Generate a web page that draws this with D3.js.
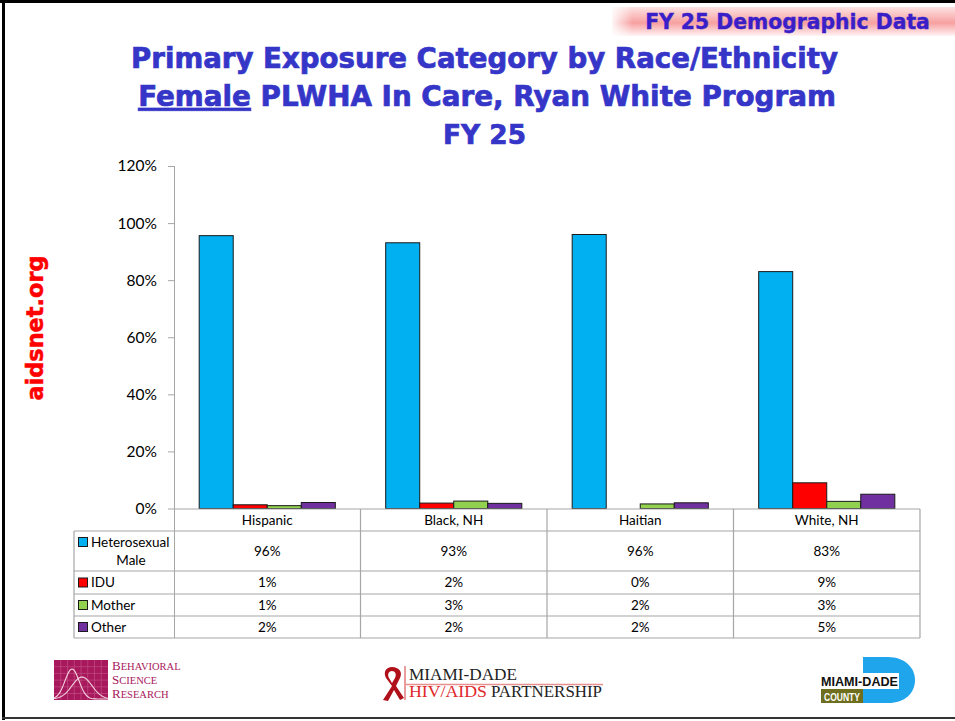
<!DOCTYPE html>
<html>
<head>
<meta charset="utf-8">
<script src="https://cdn.jsdelivr.net/npm/d3@7"></script>
<style>
  body { margin: 0; background: #fff; }
  svg { display: block; }
</style>
</head>
<body>
<div id="chart"></div>
<script>
// chart values
const categories = ['Hispanic', 'Black, NH', 'Haitian', 'White, NH'];
const seriesNames = ['Heterosexual Male', 'IDU', 'Mother', 'Other'];
const heteroMale = [95.6, 93.1, 96.0, 83.0];
const idu = [1.3, 1.9, 0, 9.0];
const mother = [1.0, 2.6, 1.6, 2.5];
const other = [2.1, 1.8, 2.0, 5.0];
const yTicks = [0, 20, 40, 60, 80, 100, 120];

const seriesColors = ['#00B0F0', '#FF0000', '#92D050', '#7030A0'];
const seriesValues = [heteroMale, idu, mother, other];

const width = 955;
const height = 721;
const titleColor = '#3535C8';
const gridGray = '#A6A6A6';
const tableFont = 'Lato, "Open Sans", sans-serif';
const heavyFont = '"DejaVu Sans", Verdana, sans-serif';

const svg = d3
  .select('#chart')
  .append('svg')
  .attr('width', width)
  .attr('height', height);

const defs = svg.append('defs');

// scale a text's font so that it spans the wanted width
function fitWidth(sel, target) {
  const size = +sel.attr('font-size') || 16;
  const w = sel.node().getComputedTextLength();
  if (w > 0) sel.attr('font-size', (size * target) / w);
  return sel;
}

// slide frame
svg.append('rect').attr('x', 0).attr('y', 0).attr('width', width).attr('height', 3).attr('fill', '#000');
svg.append('rect').attr('x', 2).attr('y', 0).attr('width', 3).attr('height', 720).attr('fill', '#000');
svg.append('rect').attr('x', 2).attr('y', 717).attr('width', width).attr('height', 2).attr('fill', '#333');

// banner top right
const bannerGrad = defs
  .append('linearGradient')
  .attr('id', 'bannerGrad')
  .attr('x1', 0).attr('y1', 0).attr('x2', 0).attr('y2', 1);
bannerGrad.append('stop').attr('offset', '0%').attr('stop-color', '#FDE3E3');
bannerGrad.append('stop').attr('offset', '55%').attr('stop-color', '#F7A0A0');
bannerGrad.append('stop').attr('offset', '100%').attr('stop-color', '#FFF4F4');

const bannerFade = defs
  .append('linearGradient')
  .attr('id', 'bannerFade')
  .attr('x1', 0).attr('y1', 0).attr('x2', 1).attr('y2', 0);
bannerFade.append('stop').attr('offset', '0%').attr('stop-color', '#fff').attr('stop-opacity', 0.9);
bannerFade.append('stop').attr('offset', '6%').attr('stop-color', '#fff').attr('stop-opacity', 0);

svg.append('rect')
  .attr('x', 612).attr('y', 7).attr('width', 343).attr('height', 29)
  .attr('fill', 'url(#bannerGrad)');
svg.append('rect')
  .attr('x', 612).attr('y', 7).attr('width', 343).attr('height', 29)
  .attr('fill', 'url(#bannerFade)');

const banner = svg.append('text')
  .attr('x', 787.5)
  .attr('y', 29)
  .attr('text-anchor', 'middle')
  .attr('font-family', heavyFont)
  .attr('font-weight', 'bold')
  .attr('font-size', 20)
  .attr('fill', '#3A1FC8')
  .attr('stroke', '#3A1FC8')
  .attr('stroke-width', 0.4)
  .text('FY 25 Demographic Data');
fitWidth(banner, 285);

// title
const title = svg.append('g')
  .attr('font-family', heavyFont)
  .attr('font-weight', 'bold')
  .attr('fill', titleColor)
  .attr('stroke', titleColor)
  .attr('stroke-width', 0.7)
  .attr('text-anchor', 'middle');

const line1 = title.append('text')
  .attr('x', 484.5).attr('y', 68)
  .attr('font-size', 27)
  .text('Primary Exposure Category by Race/Ethnicity');
fitWidth(line1, 707);

const line2 = title.append('text').attr('x', 487).attr('y', 106).attr('font-size', 27);
line2.append('tspan').attr('text-decoration', 'underline').text('Female');
line2.append('tspan').text(' PLWHA In Care, Ryan White Program');
fitWidth(line2, 698);

const line3 = title.append('text')
  .attr('x', 484.5).attr('y', 144)
  .attr('font-size', 27)
  .text('FY 25');
fitWidth(line3, 83);

// side watermark
const side = svg.append('text')
  .attr('transform', 'translate(43,328) rotate(-90)')
  .attr('text-anchor', 'middle')
  .attr('font-family', heavyFont)
  .attr('font-weight', 'bold')
  .attr('font-size', 22)
  .attr('fill', '#FF0000')
  .attr('stroke', '#FF0000')
  .attr('stroke-width', 0.5)
  .text('aidsnet.org');
fitWidth(side, 145);

// scales
const plotLeft = 174;
const plotRight = 920;
const y = d3.scaleLinear().domain([0, 120]).range([508.5, 166]);
const x0 = d3.scaleBand().domain(categories).range([plotLeft, plotRight]);
const x1 = d3
  .scaleBand()
  .domain(seriesNames)
  .range([0, x0.bandwidth()])
  .paddingInner(0)
  .paddingOuter(0.74);

// y axis
const yAxis = d3
  .axisLeft(y)
  .tickValues(yTicks)
  .tickSize(6)
  .tickPadding(11)
  .tickFormat(d => `${d}%`);

const gy = svg.append('g')
  .attr('transform', `translate(${plotLeft},0)`)
  .call(yAxis);
gy.select('.domain').remove();
gy.selectAll('.tick line').attr('stroke', gridGray);
gy.selectAll('.tick text')
  .attr('font-family', tableFont)
  .attr('font-size', 15.5)
  .attr('fill', '#000');

svg.append('line')
  .attr('x1', plotLeft + 0.5).attr('x2', plotLeft + 0.5)
  .attr('y1', y(120)).attr('y2', 638)
  .attr('stroke', gridGray);

// bars
const groups = svg
  .selectAll('g.cat')
  .data(categories)
  .enter()
  .append('g')
  .attr('class', 'cat')
  .attr('transform', d => `translate(${x0(d)},0)`);

groups
  .selectAll('rect')
  .data((d, ci) => seriesNames.map((s, si) => ({ s, si, v: seriesValues[si][ci] })))
  .enter()
  .filter(d => d.v > 0)
  .append('rect')
  .attr('x', d => x1(d.s))
  .attr('y', d => y(d.v))
  .attr('width', x1.bandwidth())
  .attr('height', d => y(0) - y(d.v))
  .attr('fill', d => seriesColors[d.si])
  .attr('stroke', '#1a1a1a')
  .attr('stroke-width', 1);

// data table
const legendLeft = 74;
const headerTop = 509;
const rowEdges = [531, 571, 594, 616, 638];

const table = svg.append('g')
  .attr('stroke', gridGray)
  .attr('stroke-width', 1.2)
  .attr('fill', 'none');

// horizontal lines
table.append('line')
  .attr('x1', plotLeft).attr('x2', plotRight)
  .attr('y1', headerTop).attr('y2', headerTop);
rowEdges.forEach(ry => {
  table.append('line')
    .attr('x1', legendLeft).attr('x2', plotRight)
    .attr('y1', ry).attr('y2', ry);
});
// vertical lines
table.append('line')
  .attr('x1', legendLeft).attr('x2', legendLeft)
  .attr('y1', rowEdges[0]).attr('y2', rowEdges[4]);
categories.forEach(c => {
  table.append('line')
    .attr('x1', x0(c) + x0.bandwidth()).attr('x2', x0(c) + x0.bandwidth())
    .attr('y1', headerTop).attr('y2', rowEdges[4]);
});

const tableText = svg.append('g')
  .attr('font-family', tableFont)
  .attr('font-size', 13.5)
  .attr('fill', '#000');

// header row
tableText.selectAll('text.head')
  .data(categories)
  .enter()
  .append('text')
  .attr('class', 'head')
  .attr('x', d => x0(d) + x0.bandwidth() / 2)
  .attr('y', (headerTop + rowEdges[0]) / 2)
  .attr('dy', '0.35em')
  .attr('text-anchor', 'middle')
  .text(d => d);

// values
seriesNames.forEach((s, si) => {
  const cy = (rowEdges[si] + rowEdges[si + 1]) / 2;
  tableText.selectAll(`text.v${si}`)
    .data(seriesValues[si])
    .enter()
    .append('text')
    .attr('class', `v${si}`)
    .attr('x', (d, ci) => x0(categories[ci]) + x0.bandwidth() / 2)
    .attr('y', cy)
    .attr('dy', '0.35em')
    .attr('text-anchor', 'middle')
    .text(d => `${Math.round(d)}%`);

  // legend key
  const words = si === 0 ? ['Heterosexual', 'Male'] : [s];
  const keyY = si === 0 ? cy - 9 : cy;
  svg.append('rect')
    .attr('x', 78.5).attr('y', keyY - 4.5)
    .attr('width', 9).attr('height', 9)
    .attr('fill', seriesColors[si])
    .attr('stroke', '#1a1a1a')
    .attr('stroke-width', 1);
  tableText.append('text')
    .attr('x', 91)
    .attr('y', keyY)
    .attr('dy', '0.35em')
    .text(words[0]);
  if (words.length > 1) {
    tableText.append('text')
      .attr('x', 131)
      .attr('y', keyY + 18)
      .attr('dy', '0.35em')
      .attr('text-anchor', 'middle')
      .text(words[1]);
  }
});

// logos along the bottom
const bsr = svg.append('g');
const bsrColor = '#A8185C';
bsr.append('rect').attr('x', 54).attr('y', 660).attr('width', 54).attr('height', 40).attr('fill', bsrColor);
d3.range(1, 8).forEach(k => {
  bsr.append('line')
    .attr('x1', 54 + k * 6.75).attr('x2', 54 + k * 6.75)
    .attr('y1', 660).attr('y2', 700)
    .attr('stroke', '#C24D82').attr('stroke-width', 0.7);
});
d3.range(1, 6).forEach(k => {
  bsr.append('line')
    .attr('x1', 54).attr('x2', 108)
    .attr('y1', 660 + k * 6.7).attr('y2', 660 + k * 6.7)
    .attr('stroke', '#C24D82').attr('stroke-width', 0.7);
});
const bell = (cx, s, h) => d3.range(0, 55).map(i => {
  const px = 54 + i;
  return [px, 699 - h * Math.exp(-((px - cx) * (px - cx)) / (2 * s * s))];
});
bsr.append('path')
  .attr('d', d3.line()(bell(72, 7, 30)))
  .attr('fill', 'none').attr('stroke', '#F3D3E0').attr('stroke-width', 1.1);
bsr.append('path')
  .attr('d', d3.line()(bell(82, 10, 22)))
  .attr('fill', 'none').attr('stroke', '#F3D3E0').attr('stroke-width', 1.1);

const bsrText = svg.append('g')
  .attr('font-family', '"Liberation Serif", "DejaVu Serif", serif')
  .attr('fill', bsrColor);
[['B', 'EHAVIORAL', 670], ['S', 'CIENCE', 684], ['R', 'ESEARCH', 698]].forEach(([a, b, ty]) => {
  const t = bsrText.append('text').attr('x', 112).attr('y', ty);
  t.append('tspan').attr('font-size', 13).text(a);
  t.append('tspan').attr('font-size', 10.5).text(b);
});

// partnership logo
const mdp = svg.append('g');
mdp.append('path')
  .attr('d', 'M392,667 C386,667 383,672 386,678 L392,686 L383,700 L388,701 L394,690 L400,700 L404,698 L396,686 L400,678 C403,672 399,667 392,667 Z M392,671 C395,671 397,674 395,678 L392,683 L389,678 C387,674 389,671 392,671 Z')
  .attr('fill', '#B0101A')
  .attr('fill-rule', 'evenodd');
mdp.append('line')
  .attr('x1', 405).attr('x2', 405).attr('y1', 666).attr('y2', 700)
  .attr('stroke', '#D43A3A').attr('stroke-width', 1);
mdp.append('line')
  .attr('x1', 405).attr('x2', 603).attr('y1', 684.5).attr('y2', 684.5)
  .attr('stroke', '#E89090').attr('stroke-width', 1.5);
mdp.append('text')
  .attr('x', 409).attr('y', 680)
  .attr('font-family', '"Liberation Serif", serif')
  .attr('font-size', 16)
  .attr('textLength', 108)
  .attr('lengthAdjust', 'spacingAndGlyphs')
  .attr('fill', '#222')
  .text('MIAMI-DADE');
mdp.append('text')
  .attr('x', 409).attr('y', 697)
  .attr('font-family', '"Liberation Serif", serif')
  .attr('font-size', 16)
  .attr('textLength', 78)
  .attr('lengthAdjust', 'spacingAndGlyphs')
  .attr('fill', '#E0282C')
  .text('HIV/AIDS');
mdp.append('text')
  .attr('x', 491).attr('y', 697)
  .attr('font-family', '"Liberation Serif", serif')
  .attr('font-size', 16)
  .attr('textLength', 111)
  .attr('lengthAdjust', 'spacingAndGlyphs')
  .attr('fill', '#222')
  .text('PARTNERSHIP');

// county logo
const mdc = svg.append('g');
mdc.append('path')
  .attr('d', 'M863,657 L888,657 C905,657 915,668 915,680 C915,693 905,703 888,703 L863,703 Z')
  .attr('fill', '#1FA5EC');
mdc.append('rect')
  .attr('x', 820).attr('y', 673).attr('width', 79).attr('height', 16)
  .attr('fill', '#fff');
mdc.append('text')
  .attr('x', 821).attr('y', 686)
  .attr('font-family', '"Liberation Sans", Arial, sans-serif')
  .attr('font-weight', 'bold')
  .attr('font-size', 12)
  .attr('textLength', 77)
  .attr('lengthAdjust', 'spacingAndGlyphs')
  .attr('fill', '#111')
  .text('MIAMI-DADE');
mdc.append('rect')
  .attr('x', 821).attr('y', 689).attr('width', 42).attr('height', 14)
  .attr('fill', '#6E6E1E');
mdc.append('text')
  .attr('x', 824).attr('y', 700.5)
  .attr('font-family', '"Liberation Sans", Arial, sans-serif')
  .attr('font-weight', 'bold')
  .attr('font-size', 11)
  .attr('textLength', 36)
  .attr('lengthAdjust', 'spacingAndGlyphs')
  .attr('fill', '#fff')
  .text('COUNTY');
</script>
</body>
</html>
